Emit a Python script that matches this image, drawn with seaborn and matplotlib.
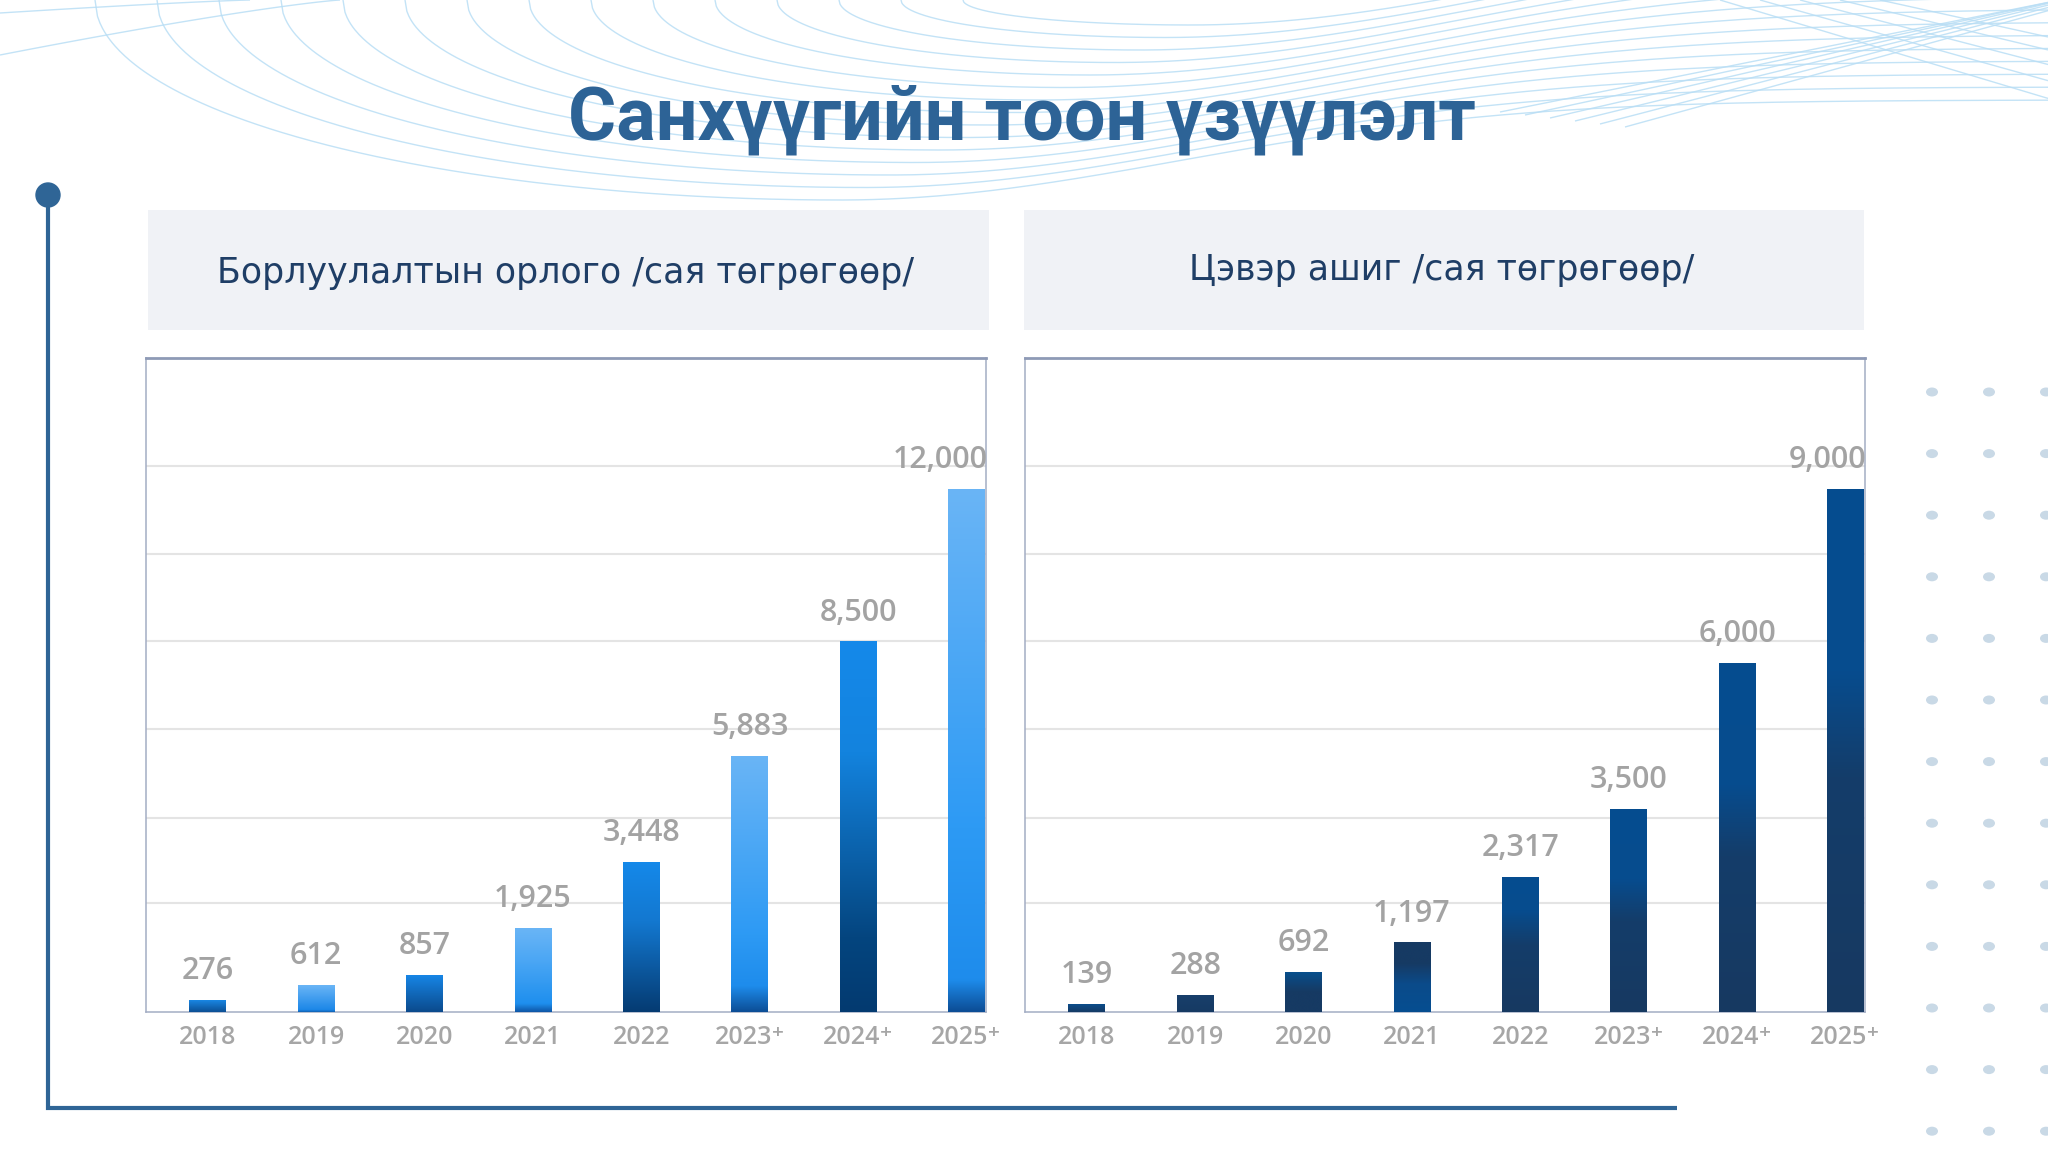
import os
import numpy as np
import pandas as pd
import matplotlib
matplotlib.use("Agg")
import matplotlib.pyplot as plt
import matplotlib.font_manager as fm
import seaborn as sns
from matplotlib.colors import LinearSegmentedColormap
from matplotlib.patches import Rectangle, Circle, Ellipse

# ---------------- data ----------------
years = ["2018", "2019", "2020", "2021", "2022", "2023⁺", "2024⁺", "2025⁺"]
revenue = [276, 612, 857, 1925, 3448, 5883, 8500, 12000]
net_profit = [139, 288, 692, 1197, 2317, 3500, 6000, 9000]
title_text = "Санхүүгийн тоон үзүүлэлт"
revenue_title = "Борлуулалтын орлого /сая төгрөгөөр/"
profit_title = "Цэвэр ашиг /сая төгрөгөөр/"

# ---------------- styles ----------------
rev_grad = [
    [(0, '#0C4F94'), (1, '#1A8BEA')],
    [(0, '#0F5FB0'), (0.08, '#1C87E8'), (1, '#6AB5F6')],
    [(0, '#0B4A8C'), (1, '#1787E8')],
    [(0, '#0E56A6'), (0.1, '#1E8FEE'), (0.6, '#4AA6F4'), (1, '#6AB5F6')],
    [(0, '#053B72'), (0.6, '#1378D0'), (1, '#1589EA')],
    [(0, '#0C4E96'), (0.1, '#1E8CEC'), (0.3, '#2D9AF4'), (1, '#6AB5F6')],
    [(0, '#033A70'), (0.2, '#04457F'), (0.7, '#1383DE'), (1, '#1589EA')],
    [(0, '#0C4E96'), (0.06, '#1E8CEC'), (0.35, '#2D9AF4'), (1, '#6AB5F6')],
]
prof_grad = [
    [(0, '#153A64'), (1, '#0A4F90')],
    [(0, '#163A63'), (1, '#183F6B')],
    [(0, '#163A63'), (0.5, '#163A63'), (1, '#07508F')],
    [(0, '#064E91'), (0.4, '#0B4B8A'), (0.7, '#163A63'), (1, '#163A63')],
    [(0, '#173961'), (0.5, '#143D6A'), (0.75, '#074C8E'), (1, '#054D90')],
    [(0, '#173961'), (0.45, '#143D6A'), (0.65, '#074C8E'), (1, '#054D90')],
    [(0, '#173961'), (0.45, '#143D6A'), (0.65, '#074C8E'), (1, '#054D90')],
    [(0, '#173961'), (0.45, '#143D6A'), (0.65, '#074C8E'), (1, '#054D90')],
]

sns.set_theme(style="white")
plt.rcParams["font.family"] = ["DejaVu Sans"]


def pick(cands, weight, keys):
    for fam in cands:
        try:
            path = fm.findfont(fm.FontProperties(family=fam, weight=weight),
                               fallback_to_default=False)
        except Exception:
            continue
        name = os.path.basename(path).lower().replace('-', '').replace('_', '').replace(' ', '')
        if fam.lower().replace(' ', '') in name and any(k in name for k in keys):
            return fam
    return "DejaVu Sans"


TITLE_FAM = pick(["Roboto", "Open Sans", "Inter", "Noto Sans"], "bold", ["bold"])
NUM_FAM = pick(["Open Sans", "Lato", "Roboto", "Inter", "Noto Sans"], "semibold",
               ["semibold", "semi", "medium", "bold"])

W, H = 2048, 1152
fig = plt.figure(figsize=(20.48, 11.52), dpi=100)
fig.patch.set_facecolor("white")

# ---------------- background decoration (pixel coords) ----------------
bg = fig.add_axes([0, 0, 1, 1], zorder=-5)
bg.set_xlim(0, W)
bg.set_ylim(H, 0)
bg.axis("off")

wave_col = '#B9DEF5'
wkw = dict(color=wave_col, lw=1.0, alpha=0.85, solid_capstyle='butt')
# nested arcs sweeping down from the top edge and flattening to the right
for i in range(15):
    x0 = 95 + 62 * i
    xp = 840 + 25 * i
    b = 200 - 12.5 * i
    c = 100 - 13 * i
    xa = np.linspace(x0, xp, 300)
    ya = b * np.sqrt(np.clip(1 - ((xp - xa) / (xp - x0)) ** 2, 0, 1))
    xb = np.linspace(xp, W, 400)
    yb = c + (b - c) * np.exp(-((xb - xp) / 480) ** 2)
    bg.plot(np.r_[xa, xb], np.r_[ya, yb], **wkw)
# small arcs at the very top left
for yy, xe in [(13, 250), (55, 340)]:
    xt = np.linspace(0, xe, 100)
    bg.plot(xt, yy * (1 - xt / xe) ** 1.2, **wkw)
# crossing diagonals at top right
for k in range(6):
    xr = np.linspace(1500 + 25 * k, W, 200)
    bg.plot(xr, 112 + 3 * k - (xr - 1500 - 25 * k) * (0.2 + 0.015 * k), **wkw)
for k in range(5):
    xr = np.linspace(1720 + 40 * k, W, 200)
    bg.plot(xr, (xr - 1720 - 40 * k) * (0.3 - 0.02 * k), **wkw)

# dot grid at right
for cx in [1932, 1989, 2046]:
    for k in range(13):
        bg.add_patch(Ellipse((cx, 392 + 61.6 * k), 12, 9, color='#C9D9E6', lw=0))

# timeline
bg.plot([48, 48, 1677], [195, 1108, 1108], color='#2F6596', lw=3,
        solid_capstyle='butt', solid_joinstyle='miter')
bg.add_patch(Circle((48, 195), 12, color='#2F6596'))

# title
bg.text(1022, 120, title_text, ha='center', va='center', fontsize=53,
        fontweight='bold', color='#2D6396', family=[TITLE_FAM, "DejaVu Sans"])

# header boxes
bg.add_patch(Rectangle((148, 210), 841, 120, facecolor='#F0F2F6', lw=0))
bg.add_patch(Rectangle((1024, 210), 840, 120, facecolor='#F0F2F6', lw=0))
bg.text(566, 273, revenue_title, ha='center', va='center', fontsize=25,
        color='#1F3E66', family=["DejaVu Sans"])
bg.text(1442, 270, profit_title, ha='center', va='center', fontsize=25,
        color='#1F3E66', family=["DejaVu Sans"])

# ---------------- panels ----------------
ax1 = fig.add_axes([146 / W, 1 - 1012 / H, 840 / W, 654 / H], zorder=1)
ax2 = fig.add_axes([1025 / W, 1 - 1012 / H, 840 / W, 654 / H], zorder=1)

grid_fracs = [0.166, 0.297, 0.433, 0.567, 0.701, 0.835]


def panel(ax, values, grads):
    df = pd.DataFrame({"year": years, "value": values})
    sns.barplot(data=df, x="year", y="value", ax=ax, width=0.34,
                color='#1589EA', saturation=1, zorder=3)
    ymax = max(values) / 0.80
    bars = list(ax.patches)
    n = len(bars)
    for i, (p, stops) in enumerate(zip(bars, grads)):
        x0, w, h = p.get_x(), p.get_width(), p.get_height()
        cmap = LinearSegmentedColormap.from_list(f"g{i}", stops)
        grad = np.linspace(0, 1, 256).reshape(-1, 1)
        im = ax.imshow(grad, extent=(x0, x0 + w, 0, h), origin='lower',
                       aspect='auto', cmap=cmap, zorder=3, interpolation='bilinear')
        im.set_clip_path(p)
        p.set_facecolor('none')
        p.set_edgecolor('none')
        last = i == n - 1
        ax.annotate(f"{int(h):,}", xy=(x0 + w if last else x0 + w / 2, h),
                    xytext=(2 if last else 0, 15), textcoords='offset points',
                    ha='right' if last else 'center', va='baseline',
                    fontsize=22, color='#A3A3A3', fontweight='semibold',
                    family=[NUM_FAM, "DejaVu Sans"], zorder=5, annotation_clip=False)
    ax.set_xlim(-0.57, 7.18)
    ax.set_ylim(0, ymax)
    ax.set_yticks([f * ymax for f in grid_fracs])
    ax.yaxis.grid(True, color='#E4E4E4', lw=1.5)
    ax.xaxis.grid(False)
    ax.set_axisbelow(True)
    ax.tick_params(axis='y', length=0, labelleft=False)
    ax.tick_params(axis='x', length=0, pad=9, labelsize=18, labelcolor='#A6A6A6')
    for t in ax.get_xticklabels():
        t.set_fontweight('semibold')
        t.set_family([NUM_FAM, "DejaVu Sans"])
    ax.set_xlabel("")
    ax.set_ylabel("")
    ax.set_facecolor('white')
    for s in ax.spines.values():
        s.set_visible(True)
        s.set_color('#A3ADC4')
        s.set_linewidth(1.1)
    ax.spines['top'].set_linewidth(2)
    ax.spines['top'].set_color('#8E9AB6')


panel(ax1, revenue, rev_grad)
panel(ax2, net_profit, prof_grad)

fig.savefig("out.png", dpi=100, facecolor="white")
